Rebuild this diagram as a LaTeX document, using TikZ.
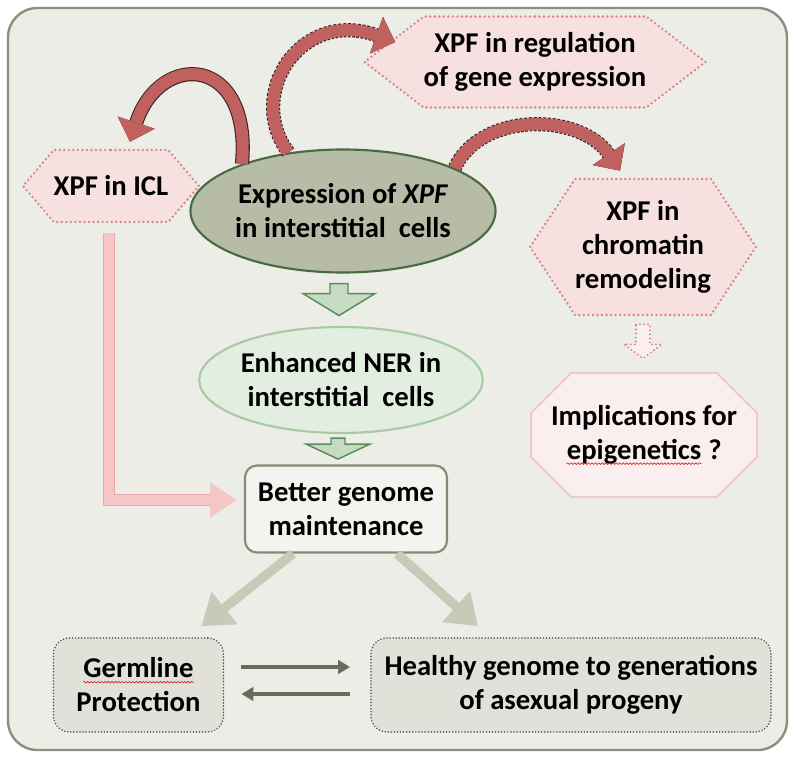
\documentclass[tikz,border=0pt]{standalone}
\usepackage{fontspec}
\setmainfont{Carlito}
\usetikzlibrary{shapes.symbols,shapes.misc,shapes.geometric,arrows.meta,decorations.pathmorphing}

\definecolor{panelfill}{HTML}{EDEDE7}
\definecolor{paneledge}{HTML}{8E8E7C}
\definecolor{hexfill}{HTML}{F6E0E0}
\definecolor{hexdot}{HTML}{D9838A}
\definecolor{exprfill}{HTML}{B7BCA7}
\definecolor{expredge}{HTML}{4B6A42}
\definecolor{nerfill}{HTML}{E2EEE0}
\definecolor{neredge}{HTML}{A7CBA3}
\definecolor{blockfill}{HTML}{C6DCC2}
\definecolor{blockedge}{HTML}{5E8B5A}
\definecolor{betterfill}{HTML}{F3F3EF}
\definecolor{betteredge}{HTML}{8A8A72}
\definecolor{implfill}{HTML}{FAEEEE}
\definecolor{impledge}{HTML}{F1C8C8}
\definecolor{bottomfill}{HTML}{E1E1D9}
\definecolor{bottomedge}{HTML}{555550}
\definecolor{graytone}{HTML}{C9C9B8}
\definecolor{darktone}{HTML}{6B6B5B}
\definecolor{pinkshaft}{HTML}{F6C6C6}
\definecolor{pinkedge}{HTML}{EBAAAA}
\definecolor{arrowred}{HTML}{C0605F}
\definecolor{arrowedge}{HTML}{3A2222}
\definecolor{spellred}{HTML}{E02020}

% red wavy line under words flagged by the spell checker
\newcommand{\squiggle}[1]{\tikz[baseline=(w.base), sharp corners, solid]{%
  \node[rectangle, draw=none, fill=none, inner sep=0pt, minimum width=0pt, minimum height=0pt] (w) {#1};
  \draw[spellred, line width=0.5pt, decorate, decoration={snake, amplitude=0.6pt, segment length=2.6pt}]
    ([yshift=-3.2pt]w.base west) -- ([yshift=-3.2pt]w.base east);}}

\tikzset{
  every node/.style={font=\bfseries\fontsize{21.5}{25.5}\selectfont, align=center, inner sep=0pt},
  hexbox/.style={signal, signal to=east and west, fill=hexfill, draw=hexdot,
    line width=2pt, dash pattern=on 0pt off 3.4pt, line cap=round},
  exprbox/.style={ellipse, fill=exprfill, draw=expredge, line width=1.6pt},
  nerbox/.style={ellipse, fill=nerfill, draw=neredge, line width=1.6pt},
  betterbox/.style={rectangle, rounded corners=9pt, fill=betterfill, draw=betteredge, line width=1.6pt},
  implbox/.style={chamfered rectangle, chamfered rectangle xsep=15pt, chamfered rectangle ysep=15pt,
    fill=implfill, draw=impledge, line width=1.4pt},
  bottombox/.style={rectangle, rounded corners=12pt, fill=bottomfill, draw=bottomedge,
    line width=1.3pt, dash pattern=on 0pt off 2.3pt, line cap=round},
  greenblock/.style={fill=blockfill, draw=blockedge, line width=1.1pt, line join=miter},
  redcurve/.style={line width=9pt, arrowred, -{Triangle[length=15pt,width=29pt,line width=0.1pt]},
    preaction={draw=arrowedge, line width=10.6pt, #1,
      -{Triangle[length=15pt,width=29pt,line width=1.4pt,fill=arrowred]}}},
  redcurve/.default={solid},
  pinkarrow/.style={line width=7pt, pinkshaft, -{Triangle[length=19pt,width=25pt,line width=0.1pt]},
    preaction={draw=pinkedge, line width=9pt, -{Triangle[length=19pt,width=25pt,line width=1pt,fill=pinkshaft]}}},
  grayarrow/.style={line width=7pt, graytone, -{Triangle[length=22pt,width=30pt]}},
  thinarrow/.style={line width=2.3pt, darktone, -{Triangle[length=9pt,width=10pt]}},
}

\begin{document}
\begin{tikzpicture}[x=0.75pt, y=-0.75pt]
  \useasboundingbox (0,0) rectangle (794,759);
  \fill[white] (0,0) rectangle (794,759);
  \draw[fill=panelfill, draw=paneledge, line width=1.8pt, rounded corners=22pt] (8,8) rectangle (787,750);

  % boxes
  \node[hexbox, signal pointer angle=75, minimum width=243.75pt, minimum height=68.25pt] (reg) at (535,62)
    {XPF in regulation\\of gene expression};
  \node[hexbox, signal pointer angle=99, minimum width=117.75pt, minimum height=54pt] (icl) at (111,186)
    {XPF in ICL};
  \node[exprbox, minimum width=210pt, minimum height=92.25pt] (expr) at (343,211)
    {Expression of \textit{XPF}\\in interstitial~ cells};
  \node[hexbox, signal pointer angle=113, minimum width=167.25pt, minimum height=102pt] (chrom) at (643,247)
    {XPF in\\chromatin\\remodeling};
  \node[implbox, minimum width=159pt, minimum height=93pt] (impl) at (644,435)
    {Implications for\\\squiggle{epigenetics} ?};
  \node[nerbox, minimum width=193.5pt, minimum height=79.5pt] (ner) at (341,380)
    {Enhanced NER in\\interstitial~ cells};
  \node[betterbox, minimum width=151.5pt, minimum height=65.25pt] (better) at (346,509)
    {Better genome\\maintenance};
  \node[bottombox, minimum width=127.5pt, minimum height=70.5pt] (germ) at (138.5,685)
    {\squiggle{Germline}\\Protection};
  \node[bottombox, minimum width=300pt, minimum height=70.5pt] (healthy) at (571,685)
    {Healthy genome to generations\\of asexual progeny};

  % curved arrows out of the expression ellipse
  \draw[redcurve] (expr.155) .. controls (252,55) and (160,50) .. ([shift={(19,-7)}]icl.north);
  \draw[redcurve={dash pattern=on 2.2pt off 1.2pt}] (expr.133) .. controls (245,95) and (300,8) .. ([shift={(33,-20)}]reg.west);
  \draw[redcurve={dash pattern=on 2.2pt off 1.2pt}] (expr.21) .. controls (480,112) and (580,112) .. ([shift={(-23,-7)}]chrom.north);

  % green block arrows
  \draw[greenblock] ([shift={(-13,10)}]expr.south) -- ++(18,0) -- ++(0,10) -- ++(27,0) -- ++(-36,22)
    -- ++(-36,-22) -- ++(27,0) -- cycle;
  \draw[greenblock] ([shift={(-10,4)}]ner.south) -- ++(14,0) -- ++(0,6) -- ++(25,0) -- ++(-32,15)
    -- ++(-32,-15) -- ++(25,0) -- cycle;

  % dotted block arrow to the implications box
  \draw[draw=hexdot, fill=implfill, line width=1.6pt, dash pattern=on 0pt off 3pt, line cap=round]
    ([shift={(-7,8)}]chrom.south) -- ++(14,0) -- ++(0,20) -- ++(12,0) -- ++(-19,14) -- ++(-19,-14)
    -- ++(12,0) -- cycle;

  % ICL feeds genome maintenance
  \draw[pinkarrow] ([shift={(-2,10)}]icl.south) |- ([shift={(-8,-9)}]better.west);

  % down to the two outcomes
  \draw[grayarrow] ([shift={(-53,0)}]better.south) -- ([shift={(63,-11)}]germ.north);
  \draw[grayarrow] ([shift={(51,0)}]better.south) -- ([shift={(-93,-11)}]healthy.north);

  \draw[thinarrow] ([shift={(17,-18)}]germ.east) -- ([shift={(-20,-18)}]healthy.west);
  \draw[thinarrow] ([shift={(-20,9)}]healthy.west) -- ([shift={(17,9)}]germ.east);
\end{tikzpicture}
\end{document}
